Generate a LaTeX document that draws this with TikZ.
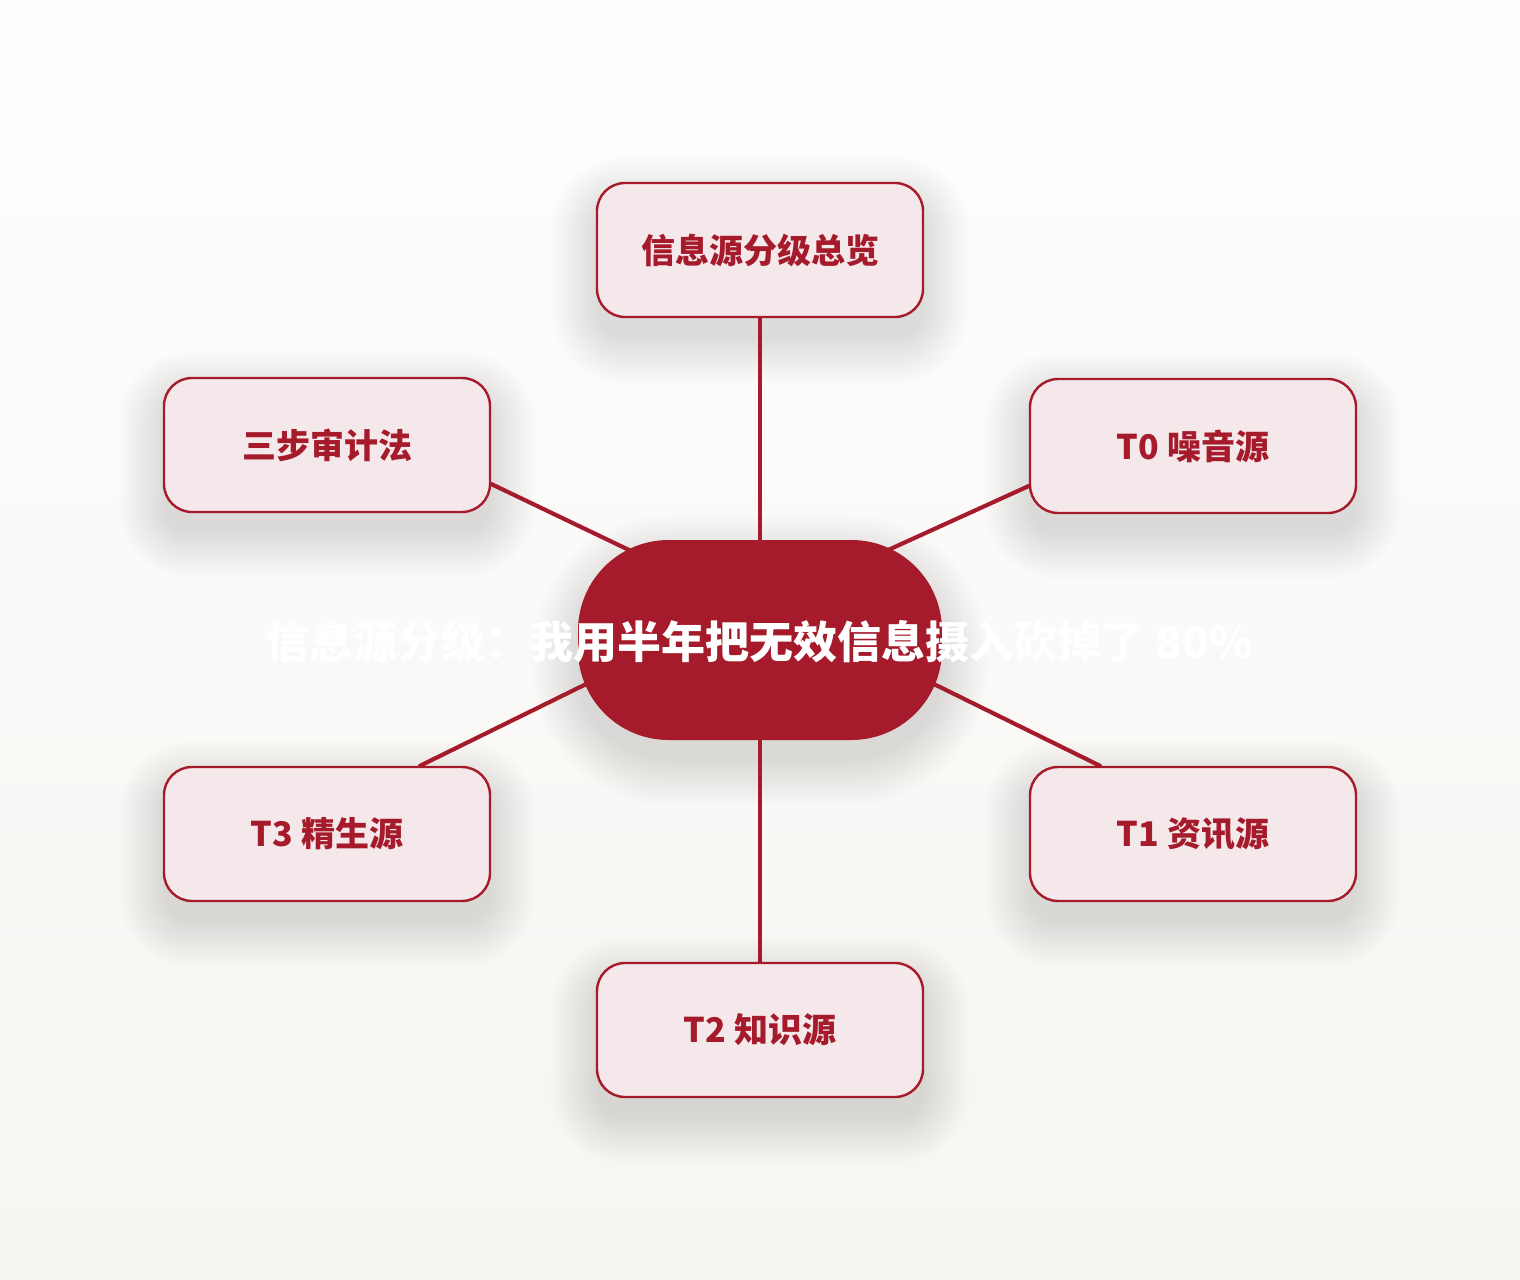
\documentclass[tikz,border=0pt]{standalone}
\usepackage{fontspec}
\setmainfont{Noto Sans CJK SC}
\usetikzlibrary{calc}
\definecolor{maroon}{HTML}{A51B2B}
\definecolor{nodefill}{HTML}{F5E8EB}
\definecolor{bgtop}{HTML}{FEFEFE}
\definecolor{bgbot}{HTML}{F7F5F1}
\pgfdeclarelayer{bg}
\pgfdeclarelayer{shadowlayer}
\pgfdeclarelayer{lines}
\pgfsetlayers{bg,shadowlayer,lines,main}
\tikzset{
  leaf/.style={rectangle, rounded corners=21pt, draw=maroon, line width=1.8pt,
    fill=nodefill, minimum width=244.5pt, minimum height=100.5pt, inner sep=0pt,
    text=maroon, font=\bfseries\fontsize{25.5}{30}\selectfont},
  hub/.style={rectangle, rounded corners=68pt, fill=maroon,
    minimum width=273pt, minimum height=150pt, inner sep=0pt},
  title/.style={text=white, font=\bfseries\fontsize{33}{38}\selectfont, inner sep=0pt},
  link/.style={draw=maroon, line width=3.1pt, line cap=round},
  shadowpiece/.style={fill=black, opacity=0.009}
}
\newcommand\softshadow[2]{%
  \begin{pgfonlayer}{shadowlayer}
  \foreach \r in {0,3,...,45} {
    \pgfmathsetmacro\shrad{#2+0.75*\r}
    \fill[shadowpiece, rounded corners=\shrad pt]
      ($(#1.north west)+(-\r,-\r+20)$) rectangle ($(#1.south east)+(\r,\r+20)$);
  }
  \end{pgfonlayer}}
\begin{document}
\begin{tikzpicture}[x=0.75pt,y=-0.75pt]
\useasboundingbox (0,0) rectangle (1520,1280);
\begin{pgfonlayer}{bg}
\shade[top color=bgtop, bottom color=bgbot] (0,0) rectangle (1520,1280);
\end{pgfonlayer}
\node[hub] (c) at (760,640) {};
\node[leaf] (t)  at (760,250) {\raisebox{-3pt}{信息源分级总览}};
\node[leaf] (lt) at (327,445) {\raisebox{-3pt}{三步审计法}};
\node[leaf] (rt) at (1193,446) {\raisebox{-3pt}{T0 噪音源}};
\node[leaf] (lb) at (327,834) {\raisebox{-3pt}{T3 精生源}};
\node[leaf] (rb) at (1193,834) {\raisebox{-3pt}{T1 资讯源}};
\node[leaf] (b)  at (760,1030) {\raisebox{-3pt}{T2 知识源}};
\node[title] (tt) at (759,642) {信息源分级：我用半年把无效信息摄入砍掉了 80\%};
\softshadow{c}{68}
\softshadow{t}{21}
\softshadow{lt}{21}
\softshadow{rt}{21}
\softshadow{lb}{21}
\softshadow{rb}{21}
\softshadow{b}{21}
\begin{pgfonlayer}{lines}
\draw[link] (c.center) -- (t.south);
\draw[link] (c.center) -- (b.north);
\draw[link] ($(c.center)+(-60,-56)$) -- ($(lt.east)+(0,39)$);
\draw[link] ($(c.center)+(60,-59)$) -- ($(rt.west)+(0,40)$);
\draw[link] ($(c.center)+(-60,-12)$) -- ($(lb.north)+(93,0)$);
\draw[link] ($(c.center)+(60,-12)$) -- ($(rb.north)+(-93,0)$);
\end{pgfonlayer}
\end{tikzpicture}
\end{document}
